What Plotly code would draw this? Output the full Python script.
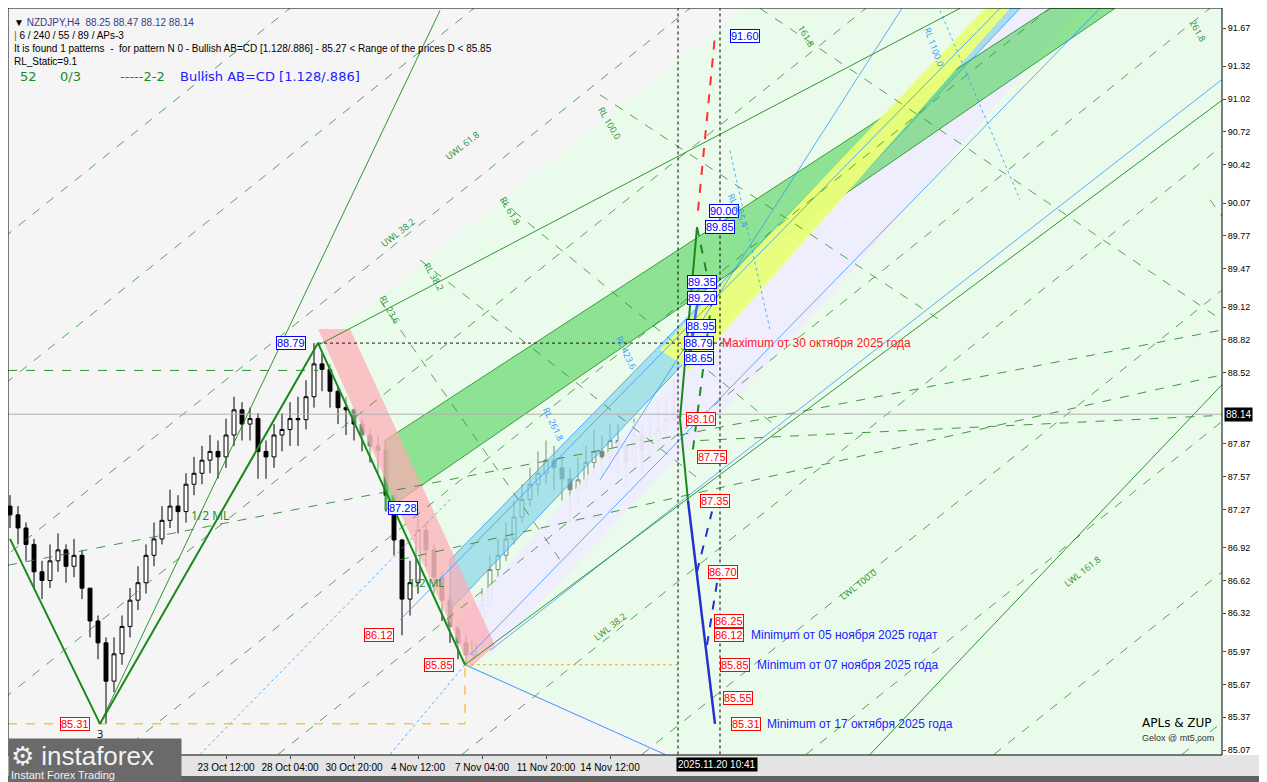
import plotly.graph_objects as go

# --- данные свечей NZDJPY H4 (индекс бара, шаг 2 бара) ---
bars = list(range(0, 168, 2))
closes = [87.22, 87.10, 86.95, 86.70, 86.62, 86.80, 86.90, 86.75, 86.85, 86.55, 86.25, 86.05,
          85.70, 85.95, 86.20, 86.44, 86.60, 86.85, 87.00, 87.17, 87.30, 87.25, 87.50, 87.60,
          87.72, 87.80, 87.75, 87.95, 88.18, 88.05, 88.10, 87.80, 87.75, 87.95, 88.00, 88.10,
          88.09, 88.30, 88.60, 88.55, 88.35, 88.20, 88.18, 88.05, 87.95, 87.85, 87.81, 87.40,
          86.99, 86.45, 86.60, 87.08, 86.90, 86.65, 86.44, 86.20, 86.05, 85.94, 86.10, 86.40,
          86.72, 86.85, 87.00, 87.20, 87.36, 87.50, 87.60, 87.72, 87.65, 87.55, 87.45, 87.54,
          87.70, 87.80, 87.75, 87.90, 87.85, 87.70, 87.95, 87.81, 87.90, 88.00, 88.09, 88.14]
highs = [87.40, 87.30, 87.15, 87.00, 86.80, 86.95, 87.05, 86.95, 87.00, 86.90, 86.55, 86.30,
         86.10, 86.10, 86.30, 86.55, 86.75, 86.95, 87.15, 87.30, 87.45, 87.40, 87.60, 87.75,
         87.85, 87.95, 87.90, 88.10, 88.30, 88.25, 88.20, 88.15, 87.90, 88.05, 88.15, 88.25,
         88.30, 88.45, 88.79, 88.70, 88.60, 88.40, 88.30, 88.20, 88.10, 88.00, 87.95, 87.85,
         87.45, 87.00, 86.80, 87.28, 87.15, 86.95, 86.70, 86.50, 86.25, 86.15, 86.30, 86.55,
         86.85, 87.00, 87.15, 87.35, 87.50, 87.65, 87.80, 87.90, 87.85, 87.75, 87.65, 87.75,
         87.85, 88.00, 87.95, 88.05, 88.05, 87.90, 88.10, 88.05, 88.10, 88.25, 88.30, 88.47]
lows = [87.10, 86.95, 86.80, 86.55, 86.45, 86.55, 86.70, 86.60, 86.65, 86.45, 86.10, 85.90,
        85.31, 85.60, 85.85, 86.10, 86.35, 86.50, 86.75, 86.95, 87.10, 87.05, 87.15, 87.40,
        87.50, 87.60, 87.55, 87.65, 87.85, 87.90, 87.90, 87.55, 87.55, 87.65, 87.80, 87.85,
        87.85, 88.00, 88.20, 88.35, 88.20, 88.05, 87.95, 87.90, 87.80, 87.70, 87.60, 87.25,
        86.85, 86.12, 86.30, 86.50, 86.75, 86.50, 86.25, 86.05, 85.90, 85.85, 85.90, 86.05,
        86.35, 86.65, 86.80, 86.95, 87.15, 87.30, 87.40, 87.50, 87.45, 87.35, 87.15, 87.30,
        87.45, 87.60, 87.55, 87.65, 87.65, 87.50, 87.65, 87.60, 87.70, 87.80, 87.95, 88.12]
opens = [87.30] + closes[:-1]

price_ticks = [91.67, 91.32, 91.02, 90.72, 90.42, 90.07, 89.77, 89.47, 89.12, 88.82, 88.52,
               87.87, 87.57, 87.27, 86.92, 86.62, 86.32, 85.97, 85.67, 85.37, 85.07]
date_bars = [54, 70, 86, 102, 118, 134, 150]
date_labels = ["23 Oct 12:00", "28 Oct 04:00", "30 Oct 20:00", "4 Nov 12:00",
               "7 Nov 04:00", "11 Nov 20:00", "14 Nov 12:00"]
last_price = 88.14

# ценовые метки прогноза
blue_levels = [91.60, 90.00, 89.85, 89.35, 89.20, 88.95, 88.79, 88.65]
blue_bars = [180.0, 174.75, 173.75, 169.25, 169.25, 169.0, 168.5, 168.5]
red_levels = [88.10, 87.75, 87.35, 86.70, 86.25, 86.12, 85.85, 85.55, 85.31]
red_bars = [169.0, 171.75, 172.5, 174.5, 176.0, 176.0, 177.5, 178.25, 180.25]

fig = go.Figure()

def poly(xs, ys, color, line=None):
    fig.add_trace(go.Scatter(x=xs + [xs[0]], y=ys + [ys[0]], fill="toself", fillcolor=color,
                             mode="lines", line=dict(width=0.8 if line else 0, color=line or color),
                             hoverinfo="skip", showlegend=False))

def seg(xs, ys, color, width=1, dash="solid"):
    fig.add_trace(go.Scatter(x=xs, y=ys, mode="lines", line=dict(color=color, width=width, dash=dash),
                             hoverinfo="skip", showlegend=False))

# фоновые области
poly([77, 183.75, 303, 303, 167.5, 113.75], [88.77, 91.85, 91.85, 85.03, 85.03, 85.85], "rgba(225,255,225,0.55)")
poly([111.25, 247.5, 267.5, 197.5, 120], [86.21, 91.85, 91.85, 88.91, 85.94], "rgba(240,236,255,0.9)")
poly([110, 245, 252.5, 110], [86.81, 91.85, 91.85, 86.35], "rgba(120,210,230,0.6)", "#3399ff")
poly([93.75, 260, 276.25, 93.75], [87.90, 91.85, 91.85, 87.26], "rgba(80,210,90,0.6)", "#1a8a1a")
poly([162.5, 243.75, 250, 170], [88.73, 91.85, 91.85, 88.54], "rgba(235,255,120,0.95)")
poly([77, 85, 121.25, 115], [88.92, 88.92, 86.03, 85.82], "rgba(255,170,180,0.7)")

# сетка пунктирных диагоналей
for top in [70, 116, 170, 214, 260, 300, 346, 391, 432, 479, 526]:
    seg([top - 233, top], [85.03, 91.85], "#2e8b2e", 0.8, "dash")
for a, b in [((147.5, 91.06), (232.5, 89.00)), ((122.5, 90.10), (192.5, 88.00)),
             ((102.5, 89.55), (172.5, 87.54)), ((92.5, 89.18), (137.5, 86.81)),
             ((187.5, 91.85), (303, 89.00)), ((300, 90.10), (303, 89.95))]:
    seg([a[0], b[0]], [a[1], b[1]], "#2e8b2e", 0.8, "dash")
seg([-0.5, 303], [86.76, 88.91], "#2e8b2e", 0.9, "dash")
seg([97.5, 303], [86.81, 88.50], "#2e8b2e", 0.9, "dash")
seg([172.5, 303], [87.90, 88.13], "#2e8b2e", 0.9, "dash")
# голубые линии
for a, b in [((97.5, 86.26), (247.5, 91.85)), ((115, 85.94), (272.5, 91.85)),
             ((120, 85.98), (303, 91.20)), ((147.5, 87.54), (223, 91.85))]:
    seg([a[0], b[0]], [a[1], b[1]], "#3399ff", 0.8)
seg([113.75, 163.75], [85.85, 85.03], "#3399ff", 1)
seg([47.5, 110], [85.03, 87.36], "#3399ff", 0.8, "dot")
seg([95, 113.75], [85.03, 85.85], "#3399ff", 0.8, "dot")
seg([180, 190], [90.55, 88.91], "#3399ff", 0.8, "dot")
seg([232.5, 252.5], [91.83, 90.10], "#3399ff", 0.8, "dot")
# зелёные сплошные
seg([113.75, 303], [85.85, 91.01], "#1a8a1a", 0.9)
seg([215, 303], [85.03, 88.41], "#1a8a1a", 0.9)
seg([22.5, 107.5], [85.31, 91.83], "#1a8a1a", 0.9)
seg([77, 237.5], [88.77, 91.85], "#1a8a1a", 0.9)

# горизонтальные уровни
seg([-0.5, 77], [88.54, 88.54], "#1a8a1a", 0.9, "dash")
seg([77, 180], [88.79, 88.79], "#000000", 0.9, "dot")
seg([-0.5, 303], [last_price, last_price], "#b0b0b0", 1)
seg([-0.5, 113.75, 113.75], [85.31, 85.31, 85.85], "orange", 1, "dash")
seg([113.75, 167.5], [85.85, 85.85], "orange", 1, "dot")
seg([167, 167], [85.03, 91.85], "#000000", 1, "3px,3px")
seg([177.5, 177.5], [85.03, 91.85], "#000000", 1, "3px,3px")

# зигзаг
seg([0, 22.5, 77, 113.75], [87.00, 85.31, 88.79, 85.85], "#1a8a1a", 2)

# свечи
fig.add_trace(go.Candlestick(x=bars, open=opens, high=highs, low=lows, close=closes,
                             increasing=dict(line=dict(color="black", width=1), fillcolor="white"),
                             decreasing=dict(line=dict(color="black", width=1), fillcolor="black"),
                             whiskerwidth=0, hoverinfo="skip", showlegend=False))

# прогноз
seg([167.5, 171.75], [88.10, 89.85], "#1a8a1a", 2)
seg([171.75, 175.5, 170.5], [89.85, 89.20, 87.75], "#1a8a1a", 2, "dash")
seg([167.5, 169.5], [88.10, 87.35], "#1a8a1a", 2)
seg([172, 176.25], [90.00, 91.60], "#ff3030", 2, "dash")
seg([169.5, 176.25], [87.35, 85.31], "#2233cc", 2.5)
seg([171.75, 175.5], [86.70, 87.25], "#2233cc", 2, "dash")
seg([174.25, 176.75], [86.03, 86.60], "#2233cc", 2, "dash")
seg([169.5, 172, 170], [88.65, 89.20, 88.65], "#4169e1", 2)

ann = []
def box(b, v, c):
    ann.append(dict(x=b, y=v, text=f"{v:.2f}", xanchor="left", showarrow=False,
                    font=dict(color=c, size=11, family="Liberation Sans"),
                    bordercolor=c, borderwidth=1, borderpad=0, bgcolor="white"))
for v, b in zip(blue_levels, blue_bars):
    box(b, v, "#0000ff")
for v, b in zip(red_levels, red_bars):
    box(b, v, "#ff0000")
for v, b, c in [(88.79, 66.5, "#0000ff"), (87.28, 94.5, "#0000ff"), (86.12, 88.5, "#ff0000"),
                (85.85, 103.5, "#ff0000"), (85.31, 12.5, "#ff0000")]:
    box(b, v, c)
for b, v, t, c in [(177.5, 88.79, "Maximum от 30 октября 2025 года", "#ff2020"),
                   (184.75, 86.12, "Minimum от 05 ноября 2025 годат", "#2020ff"),
                   (186.25, 85.85, "Minimum от 07 ноября 2025 года", "#2020ff"),
                   (188.75, 85.31, "Minimum от 17 октября 2025 года", "#2020ff")]:
    ann.append(dict(x=b, y=v, text=t, xanchor="left", showarrow=False,
                    font=dict(color=c, size=12, family="Liberation Sans")))
ann.append(dict(x=22.5, y=85.22, text="3", showarrow=False, font=dict(size=11, color="black")))
ann.append(dict(x=50, y=87.21, text="1/2 ML", showarrow=False, font=dict(size=12, color="#1a8a1a")))
ann.append(dict(x=104, y=86.60, text="1/2 ML", showarrow=False, font=dict(size=11, color="#1a8a1a")))
for b, v, t, ang in [(150, 86.20, "LWL 38.2", -38), (212, 86.58, "LWL 100.0", -38),
                     (268, 86.70, "LWL 161.8", -38), (97, 89.80, "UWL 38.2", -38),
                     (113, 90.60, "UWL 61.8", -38), (150, 90.80, "RL 100.0", 60),
                     (125, 90.00, "RL 61.8", 60), (106, 89.40, "RL 38.2", 60),
                     (95, 89.10, "RL 23.6", 60), (136, 88.05, "RL 261.8", 65),
                     (154, 88.70, "RL 423.6", 65), (182, 90.00, "RL 685.4", 65),
                     (231, 91.50, "RL 1100.0", 70), (199, 91.60, "161.8", 60), (297, 91.65, "261.8", 60)]:
    ann.append(dict(x=b, y=v, text=t, textangle=ang, showarrow=False,
                    font=dict(size=9, color="#2e8b2e" if t[0] != "R" or ang < 62 else "#3399ff")))
# текущая цена и время
ann.append(dict(x=1.002, xref="paper", y=last_price, text="88.14", xanchor="left", showarrow=False,
                bgcolor="black", font=dict(color="white", size=10, family="Liberation Sans")))
ann.append(dict(x=166.5, y=-0.003, yref="paper", text="2025.11.20 10:41", xanchor="left", yanchor="top",
                showarrow=False, bgcolor="black", font=dict(color="white", size=10, family="Liberation Sans")))

def px(x, y):
    return (x - 8) / 1214, (755 - y) / 747

head = [(12, 15, "▼ <span style='color:#3a3a8a'>NZDJPY,H4  88.25 88.47 88.12 88.14</span>", 10, "black"),
        (12, 28, "<span style='color:#1a8a1a'>|</span> 6 / 240 / 55 / 89 / APs-3", 10, "black"),
        (12, 41, "It is found 1 patterns  -  for pattern N 0 - Bullish AB=CD [1.128/.886] - 85.27 < Range of the prices D < 85.85", 10, "black"),
        (12, 54, "RL_Static=9.1", 10, "black"),
        (18, 67, "52", 13, "#1a8a1a"), (58, 67, "0/3", 13, "#1a8a1a"),
        (118, 67, "-----2-2", 13, "#1a8a1a"), (178, 67, "Bullish AB=CD [1.128/.886]", 13, "#2020ff"),
        (1140, 732, "APLs & ZUP", 12, "black"), (1140, 745, "Gelox @ mt5.com", 9, "#333333")]
for x, y, t, s, c in head:
    xp, yp = px(x, y)
    ann.append(dict(x=xp, y=yp, xref="paper", yref="paper", text=t, xanchor="left", showarrow=False,
                    font=dict(size=s, color=c, family="Liberation Sans" if s < 12 else "DejaVu Sans")))
# логотип в левом нижнем углу (фон задан самой аннотацией)
xp, yp = px(8, 738)
ann.append(dict(x=xp, y=yp, xref="paper", yref="paper", xanchor="left", yanchor="top", showarrow=False,
                text="<span style='font-size:26px'>⚙ instaforex</span><br>Instant Forex Trading",
                align="left", bgcolor="#6a6a6a", borderpad=2, width=168, height=40,
                font=dict(size=11, color="#f2f2f2", family="Liberation Sans")))

shapes = [
    dict(type="rect", xref="paper", yref="paper", x0=-0.01, x1=1.04, y0=-0.0, y1=-0.028,
         fillcolor="#e4e4e4", line=dict(width=0), layer="below"),
    dict(type="rect", xref="paper", yref="paper", x0=-0.01, x1=1.04, y0=-0.028, y1=-0.040,
         fillcolor="#606060", line=dict(width=0)),
    dict(type="rect", xref="paper", yref="paper", x0=0, x1=1, y0=0, y1=1,
         line=dict(color="black", width=1)),
    dict(type="rect", xref="paper", yref="paper", x0=1.033, x1=1.04, y0=-0.04, y1=1.01,
         fillcolor="#606060", line=dict(width=0)),
]

# страница получает отступ 8px от body, поэтому фигура меньше окна на эти 8px
fig.update_layout(
    width=1259, height=774,
    margin=dict(l=0, r=45, t=0, b=27, autoexpand=False),
    paper_bgcolor="white", plot_bgcolor="#f5f5f5",
    xaxis=dict(range=[-0.5, 303], tickvals=date_bars, ticktext=date_labels, showgrid=False,
               rangeslider=dict(visible=False), ticks="outside", ticklen=3, zeroline=False,
               tickfont=dict(size=10, family="Liberation Sans", color="black")),
    yaxis=dict(range=[85.025, 91.853], side="right", tickvals=price_ticks,
               ticktext=[f"{v:.2f}" for v in price_ticks], showgrid=False, ticks="outside", ticklen=3,
               tickfont=dict(size=9, family="Liberation Sans", color="black"), zeroline=False),
    annotations=ann, shapes=shapes, showlegend=False,
)

fig.write_html("out.html")
